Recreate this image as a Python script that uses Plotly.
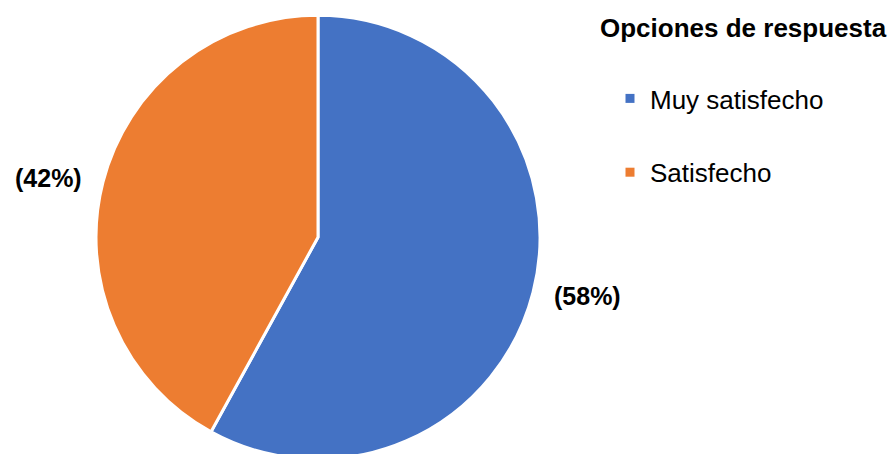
import math
import plotly.graph_objects as go

# ---- data ----
categories = ["Muy satisfecho", "Satisfecho"]
values = [58, 42]
colors = ["#4472C4", "#ED7D31"]
legend_title = "Opciones de respuesta"

W, H = 894, 460   # page window is 454 tall; the pie's bottom is clipped as in the reference
FONT = "Liberation Sans, Arial, sans-serif"

# pie geometry (pixels)
top_px = 14.5
dom_x = [96 / W, 540 / W]
dom_y = [0.0, 1 - top_px / H]
R = (H - top_px) / 2
cx, cy = (dom_x[0] + dom_x[1]) / 2 * W, top_px + R

fig = go.Figure()
fig.add_trace(go.Pie(
    labels=categories, values=values, sort=False, direction="clockwise",
    rotation=0, marker=dict(colors=colors, line=dict(color="white", width=3)),
    textinfo="none", hoverinfo="label+percent", showlegend=False,
    domain=dict(x=dom_x, y=dom_y),
))

# percentage labels outside slices, positioned from slice mid-angles
total = sum(values)
cum = 0
annotations = []
for v in values:
    mid = (cum + v / 2) / total * 2 * math.pi
    cum += v
    k = 1.25
    px = cx + k * R * math.sin(mid)
    py = cy - k * R * math.cos(mid) * 0.85
    annotations.append(dict(
        x=px / W, y=1 - py / H, xref="paper", yref="paper",
        text=f"<b>({round(v / total * 100)}%)</b>", showarrow=False,
        font=dict(family=FONT, size=25, color="#000000"),
        xanchor="center", yanchor="middle",
    ))

# legend title
annotations.append(dict(
    x=598 / W, y=1 - 28 / H, xref="paper", yref="paper",
    text="<b>" + legend_title + "</b>", showarrow=False,
    font=dict(family=FONT, size=26, color="#000000"),
    xanchor="left", yanchor="middle",
))

# legend entries
for name, c in zip(categories, colors):
    fig.add_trace(go.Scatter(
        x=[None], y=[None], mode="markers", name=name, legendgroup=name,
        marker=dict(symbol="square", size=9, color=c),
    ))

fig.update_layout(
    width=W, height=H, margin=dict(l=0, r=0, t=0, b=0, autoexpand=False),
    paper_bgcolor="white", plot_bgcolor="white",
    xaxis=dict(visible=False), yaxis=dict(visible=False),
    annotations=annotations,
    showlegend=True,
    legend=dict(
        x=610 / W, y=1 - 75 / H, xanchor="left", yanchor="top",
        font=dict(family=FONT, size=26, color="#000000"),
        traceorder="grouped", tracegroupgap=37,
        bgcolor="rgba(0,0,0,0)",
    ),
)

fig.write_html(
    "out.html",
    config={"displayModeBar": False},
    post_script="document.body.style.margin='0';document.body.style.overflow='hidden';",
)
